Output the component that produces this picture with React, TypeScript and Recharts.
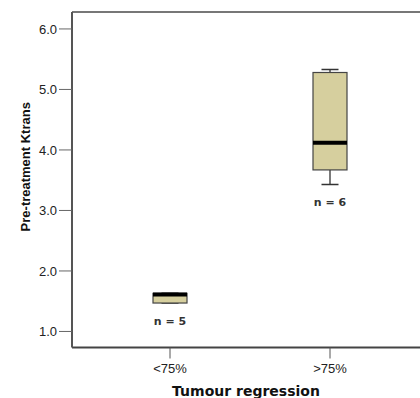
import React from 'react'
import { Bar, ComposedChart, ReferenceLine, XAxis, YAxis } from 'recharts'

// box plot summary per group
const groups = ['<75%', '>75%']
const groupPos = [1, 2]
const mins = [1.47, 3.43]
const q1s = [1.47, 3.67]
const medians = [1.61, 4.12]
const q3s = [1.63, 5.28]
const maxs = [1.63, 5.33]
const counts = [5, 6]
const yTicks = [1.0, 2.0, 3.0, 4.0, 5.0, 6.0]
const yDomain = [0.735, 6.28]
const xDomain = [0.3875, 2.5625]

const data = groups.map((g, i) => ({
  name: g,
  pos: groupPos[i],
  range: [mins[i], maxs[i]],
  min: mins[i],
  q1: q1s[i],
  median: medians[i],
  q3: q3s[i],
  max: maxs[i],
  n: counts[i],
}))

const BoxShape = (props: any) => {
  const { x, y, width, height, payload } = props
  const { min, q1, median, q3, max, n } = payload
  const span = max - min || 1
  const py = (v: number) => y + ((max - v) * height) / span
  const cx = x + width / 2
  const cap = width / 2
  return (
    <g>
      <line x1={cx} x2={cx} y1={py(max)} y2={py(q3)} stroke="#333" strokeWidth={1.3} />
      <line x1={cx} x2={cx} y1={py(q1)} y2={py(min)} stroke="#333" strokeWidth={1.3} />
      <line x1={cx - cap / 2} x2={cx + cap / 2} y1={py(max)} y2={py(max)} stroke="#333" strokeWidth={1.5} />
      <line x1={cx - cap / 2} x2={cx + cap / 2} y1={py(min)} y2={py(min)} stroke="#333" strokeWidth={1.5} />
      <rect
        x={x}
        y={py(q3)}
        width={width}
        height={py(q1) - py(q3)}
        fill="#d6cf9e"
        stroke="#444"
        strokeWidth={1.2}
      />
      <line x1={x} x2={x + width} y1={py(median)} y2={py(median)} stroke="#000" strokeWidth={4} />
      <text
        x={cx}
        y={py(min) + 22}
        textAnchor="middle"
        fontFamily="DejaVu Sans"
        fontWeight="bold"
        fontSize={11}
        fill="#333"
      >
        {`n = ${n}`}
      </text>
    </g>
  )
}

export default function App() {
  return (
    <div style={{ position: 'absolute', left: 0, top: 0, width: 420, height: 398 }}>
      <ComposedChart
        width={420}
        height={398}
        data={data}
        margin={{ top: 12, right: 0, bottom: 0, left: 0 }}
        style={{ fontFamily: '"Liberation Sans", Arial, sans-serif' }}
      >
        <XAxis
          type="number"
          dataKey="pos"
          domain={xDomain}
          allowDataOverflow
          ticks={groupPos}
          tickFormatter={(v: number) => groups[groupPos.indexOf(v)] ?? ''}
          height={50.5}
          tickSize={11}
          tickMargin={5}
          tick={{ fill: '#222', fontSize: 13 }}
          tickLine={{ stroke: '#555' }}
          axisLine={{ stroke: '#444', strokeWidth: 2 }}
          label={{
            value: 'Tumour regression',
            position: 'insideBottom',
            offset: 2,
            style: { fontFamily: 'DejaVu Sans', fontWeight: 'bold', fontSize: 14, fill: '#111' },
          }}
        />
        <YAxis
          type="number"
          domain={yDomain}
          allowDataOverflow
          ticks={yTicks}
          tickFormatter={(v: number) => v.toFixed(1)}
          width={72}
          tickSize={13}
          tickMargin={2}
          tick={{ fill: '#222', fontSize: 13 }}
          tickLine={{ stroke: '#666' }}
          axisLine={{ stroke: '#555', strokeWidth: 2 }}
          label={{
            value: 'Pre-treatment Ktrans',
            angle: -90,
            position: 'insideLeft',
            offset: 25,
            dy: -13,
            style: { textAnchor: 'middle', fontWeight: 'bold', fontSize: 13, fill: '#111' },
          }}
        />
        <ReferenceLine y={yDomain[1]} stroke="#777" strokeWidth={2} ifOverflow="visible" />
        <Bar dataKey="range" barSize={34} shape={BoxShape} isAnimationActive={false} />
      </ComposedChart>
    </div>
  )
}
